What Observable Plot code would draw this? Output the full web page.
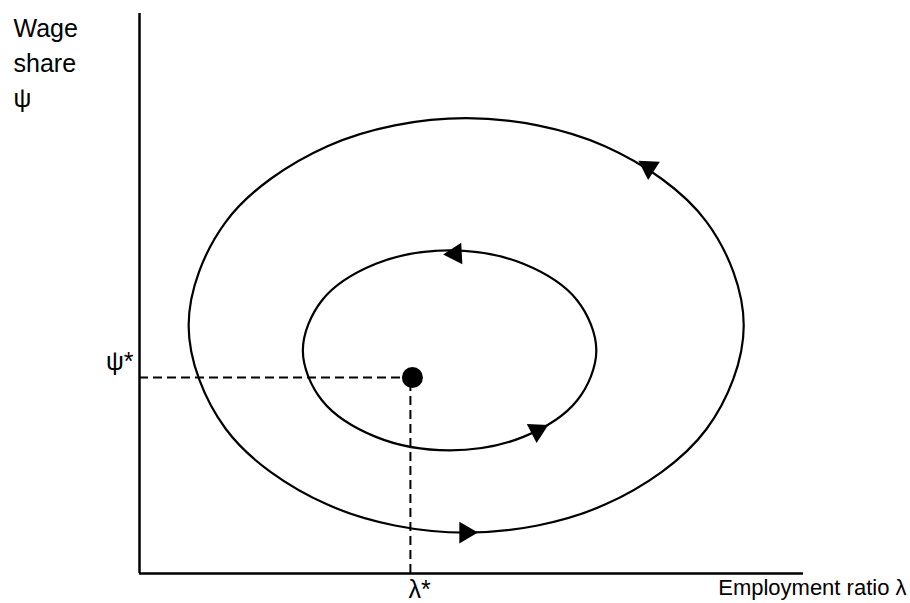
<!DOCTYPE html>
<html>
<head>
<meta charset="utf-8">
<script src="https://cdn.jsdelivr.net/npm/d3@7"></script>
<script src="https://cdn.jsdelivr.net/npm/@observablehq/plot@0.6"></script>
<style>
  html, body { margin: 0; padding: 0; background: #fff; }
  #chart svg { display: block; }
</style>
</head>
<body>
<div id="chart"></div>
<script>
// Equilibrium (λ*, ψ*) in arbitrary units (axes run 0–100)
const lambdaStar = 40.8;
const psiStar = 35.0;

// Outer closed orbit, points read around the curve
const outerLambda = [91.0, 85.4, 70.1, 49.2, 28.3, 13.0, 7.4, 13.0, 28.3, 49.2, 70.1, 85.4];
const outerPsi    = [44.3, 62.8, 76.3, 81.3, 76.3, 62.8, 44.3, 25.8, 12.3, 7.3, 12.3, 25.8];

// Inner closed orbit
const innerLambda = [68.8, 65.9, 57.8, 46.7, 35.6, 27.5, 24.6, 27.5, 35.6, 46.7, 57.8, 65.9];
const innerPsi    = [39.8, 48.8, 55.3, 57.7, 55.3, 48.8, 39.8, 30.9, 24.4, 22.0, 24.4, 30.9];

// Direction arrows on the orbits (position and heading, degrees clockwise from up)
const arrowLambda  = [76.7, 49.1, 47.6, 59.9];
const arrowPsi     = [72.5, 7.3, 57.1, 25.5];
const arrowHeading = [-57, 90, -93, 63];

// Text
const xLabel = "Employment ratio λ";
const yLabel = "Wage\nshare\nψ";
const xTickLabel = "λ*";
const yTickLabel = "ψ*";

const outer = outerLambda.map((l, i) => ({l, p: outerPsi[i]}));
const inner = innerLambda.map((l, i) => ({l, p: innerPsi[i]}));
const arrows = arrowLambda.map((l, i) => ({l, p: arrowPsi[i], a: arrowHeading[i]}));

const chart = Plot.plot({
  width: 910,
  height: 603,
  marginLeft: 139,
  marginRight: 107,
  marginTop: 13,
  marginBottom: 30,
  x: {domain: [0, 100], axis: null},
  y: {domain: [0, 100], axis: null},
  style: {fontFamily: "'Liberation Sans', Arial, sans-serif", fontSize: "21px", background: "#fff", color: "#000"},
  marks: [
    // dashed guides to the equilibrium
    Plot.ruleY([psiStar], {x1: 0, x2: lambdaStar, stroke: "#000", strokeWidth: 2, strokeDasharray: "9,5"}),
    Plot.ruleX([lambdaStar], {y1: 0, y2: psiStar, stroke: "#000", strokeWidth: 2, strokeDasharray: "9,5"}),
    // orbits
    Plot.line(outer, {x: "l", y: "p", curve: "catmull-rom-closed", stroke: "#000", strokeWidth: 2.2}),
    Plot.line(inner, {x: "l", y: "p", curve: "catmull-rom-closed", stroke: "#000", strokeWidth: 2.2}),
    // arrows
    Plot.dot(arrows, {x: "l", y: "p", symbol: "triangle", r: 8, fill: "#000", stroke: "none", rotate: "a"}),
    // equilibrium point
    Plot.dot([{l: lambdaStar, p: psiStar}], {x: "l", y: "p", r: 10.5, fill: "#000", stroke: "none", dx: 2}),
    // axes
    Plot.ruleX([0], {y1: 0, y2: 100, stroke: "#000", strokeWidth: 2.5}),
    Plot.ruleY([0], {x1: 0, x2: 100, stroke: "#000", strokeWidth: 2.5}),
    Plot.axisX([lambdaStar], {label: null, tickSize: 0, tickPadding: 7, tickFormat: () => xTickLabel, textAnchor: "start", dx: -2, fontSize: 25}),
    Plot.axisY([psiStar], {label: null, tickSize: 0, tickPadding: 6, tickFormat: () => yTickLabel, dy: -16, fontSize: 25}),
    // axis titles
    Plot.text([xLabel], {frameAnchor: "bottom-right", text: d => d, textAnchor: "end", lineAnchor: "top", dx: 103, dy: 6, fontSize: 22}),
    Plot.text([yLabel], {frameAnchor: "top-left", text: d => d, textAnchor: "start", lineAnchor: "top", dx: -126, dy: -1, lineHeight: 1.4, fontSize: 25})
  ]
});
document.getElementById("chart").appendChild(chart);
</script>
</body>
</html>
